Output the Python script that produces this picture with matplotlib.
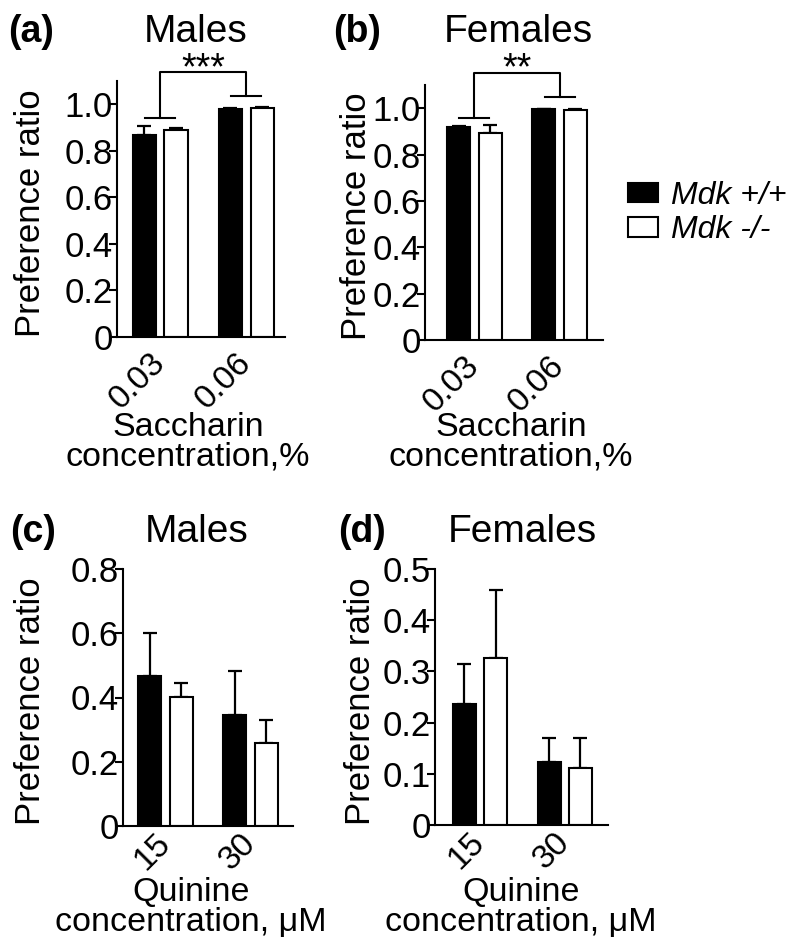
import numpy as np
import matplotlib
matplotlib.use("Agg")
import matplotlib.pyplot as plt
from matplotlib.patches import Patch
from matplotlib.transforms import ScaledTranslation

plt.rcParams['font.family'] = ['Liberation Sans', 'DejaVu Sans']

# data
sacch_conc = ['0.03', '0.06']
quin_conc = ['15', '30']

# (a) saccharin, males
a_wt = [0.866, 0.981]
a_wt_err = [0.041, 0.004]
a_ko = [0.888, 0.985]
a_ko_err = [0.008, 0.003]

# (b) saccharin, females
b_wt = [0.917, 0.996]
b_wt_err = [0.008, 0.002]
b_ko = [0.894, 0.993]
b_ko_err = [0.033, 0.002]

# (c) quinine, males
c_wt = [0.467, 0.347]
c_wt_err = [0.135, 0.136]
c_ko = [0.402, 0.257]
c_ko_err = [0.042, 0.073]

# (d) quinine, females
d_wt = [0.236, 0.123]
d_wt_err = [0.078, 0.046]
d_ko = [0.327, 0.112]
d_ko_err = [0.132, 0.057]

W, H = 800, 950
fig = plt.figure(figsize=(W / 100, H / 100), dpi=100)


def fx(x):
    return x / W


def fy(y):
    return 1 - y / H


def add_ax(left, top, right, bottom):
    return fig.add_axes([fx(left), fy(bottom), (right - left) / W, (bottom - top) / H])


def draw_panel(ax, wt, wt_err, ko, ko_err, xlabels, xlim, ylim, yticks, yticklabels, xpad):
    x = np.arange(len(wt))
    w = 0.27
    off = 0.185
    ax.bar(x - off, wt, w, color='black', edgecolor='black', linewidth=1.5, zorder=2)
    ax.bar(x + off, ko, w, color='white', edgecolor='black', linewidth=1.5, zorder=2)
    ax.errorbar(x - off, wt, yerr=[np.zeros(len(wt)), wt_err], fmt='none',
                ecolor='black', elinewidth=1.6, capsize=5, capthick=1.6, zorder=1)
    ax.errorbar(x + off, ko, yerr=[np.zeros(len(ko)), ko_err], fmt='none',
                ecolor='black', elinewidth=1.6, capsize=5, capthick=1.6, zorder=1)
    ax.set_xlim(*xlim)
    ax.set_ylim(*ylim)
    ax.set_yticks(yticks)
    ax.set_yticklabels(yticklabels, fontsize=25)
    ax.set_xticks(x)
    ax.set_xticklabels(xlabels, fontsize=24, rotation=45, ha='right', va='center',
                       rotation_mode='anchor')
    shift = ScaledTranslation(6 / 72, 0, fig.dpi_scale_trans)
    for lab in ax.get_xticklabels():
        lab.set_transform(lab.get_transform() + shift)
    ax.tick_params(axis='x', length=0, pad=xpad)
    ax.tick_params(axis='y', length=6, width=1.5, pad=-3)
    for s in ['top', 'right']:
        ax.spines[s].set_visible(False)
    for s in ['left', 'bottom']:
        ax.spines[s].set_linewidth(1.5)


def bracket(ax, y1, y2, ytop, stars):
    kw = dict(color='black', lw=1.5, clip_on=False)
    hw = 0.176
    ax.plot([-hw, hw], [y1, y1], **kw)
    ax.plot([1 - hw, 1 + hw], [y2, y2], **kw)
    ax.plot([0, 0, 1, 1], [y1, ytop, ytop, y2], **kw)
    ax.annotate(stars, (0.5, ytop), xytext=(0, -5), textcoords='offset points',
                ha='center', va='baseline', fontsize=27, annotation_clip=False)


ax_a = add_ax(117, 81, 285, 337)
ax_b = add_ax(425, 85, 603, 340)
ax_c = add_ax(123, 569, 293, 826)
ax_d = add_ax(435, 569, 608, 825)

sacch_ticks = [0, 0.2, 0.4, 0.6, 0.8, 1.0]
sacch_ticklabels = ['0', '0.2', '0.4', '0.6', '0.8', '1.0']
draw_panel(ax_a, a_wt, a_wt_err, a_ko, a_ko_err, sacch_conc,
           (-0.5, 1.45), (0, 1.1), sacch_ticks, sacch_ticklabels, 15)
draw_panel(ax_b, b_wt, b_wt_err, b_ko, b_ko_err, sacch_conc,
           (-0.58, 1.51), (0, 1.1), sacch_ticks, sacch_ticklabels, 15)
draw_panel(ax_c, c_wt, c_wt_err, c_ko, c_ko_err, quin_conc,
           (-0.5, 1.5), (0, 0.8), [0, 0.2, 0.4, 0.6, 0.8],
           ['0', '0.2', '0.4', '0.6', '0.8'], 9)
draw_panel(ax_d, d_wt, d_wt_err, d_ko, d_ko_err, quin_conc,
           (-0.53, 1.51), (0, 0.5), [0, 0.1, 0.2, 0.3, 0.4, 0.5],
           ['0', '0.1', '0.2', '0.3', '0.4', '0.5'], 9)

bracket(ax_a, 0.943, 1.034, 1.139, '***')
bracket(ax_b, 0.958, 1.049, 1.153, '**')

# titles and panel letters
for letter, title, lx, tx, by in [('(a)', 'Males', 8, 196, 42),
                                  ('(b)', 'Females', 333, 518, 42),
                                  ('(c)', 'Males', 10, 197, 542),
                                  ('(d)', 'Females', 338, 522, 542)]:
    fig.text(fx(lx), fy(by), letter, fontsize=27, fontweight='bold', va='baseline', ha='left')
    fig.text(fx(tx), fy(by), title, fontsize=28, va='baseline', ha='center')

# axis labels
for ax, lx, xc, ytop, text in [(ax_a, 31, 188, 412, 'Saccharin\nconcentration,%'),
                                (ax_b, 356, 511, 412, 'Saccharin\nconcentration,%'),
                                (ax_c, 31, 191, 877, 'Quinine\nconcentration, \u03bcM'),
                                (ax_d, 361, 521, 877, 'Quinine\nconcentration, \u03bcM')]:
    pos = ax.get_position()
    ax.set_ylabel('Preference ratio', fontsize=25, va='center')
    ax.yaxis.set_label_coords(fx(lx), pos.y0 + pos.height / 2 - 0.004,
                              transform=fig.transFigure)
    ax.set_xlabel(text, fontsize=24.5, linespacing=0.95)
    ax.xaxis.set_label_coords(fx(xc), fy(ytop), transform=fig.transFigure)

handles = [Patch(facecolor='black', edgecolor='black', linewidth=1.5),
           Patch(facecolor='white', edgecolor='black', linewidth=1.5)]
fig.legend(handles, ['Mdk +/+', 'Mdk -/-'], loc='center left',
           bbox_to_anchor=(fx(612), fy(213)), frameon=False,
           prop={'size': 23, 'style': 'italic'}, handlelength=0.95,
           handleheight=0.55, handletextpad=0.4, labelspacing=0.15, borderpad=0)

fig.savefig('out.png', dpi=100)
